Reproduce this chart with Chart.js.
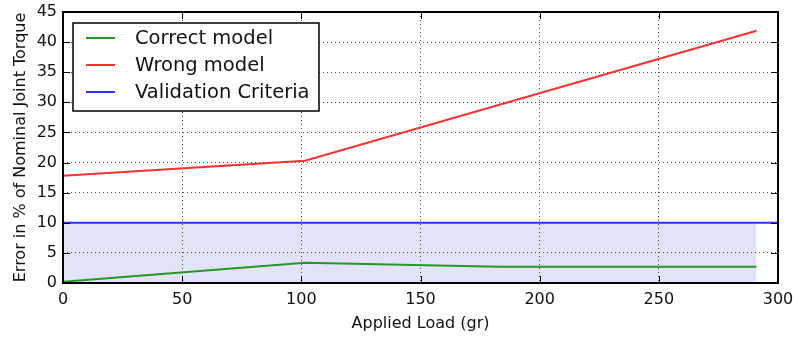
<!DOCTYPE html>
<html>
<head>
<meta charset="utf-8">
<script src="https://cdn.jsdelivr.net/npm/chart.js@4/dist/chart.umd.min.js"></script>
<style>
  html, body { margin: 0; padding: 0; background: #fff; }
  #wrap { width: 793px; height: 338px; }
</style>
</head>
<body>
<div id="wrap"><canvas id="chart" width="793" height="338"></canvas></div>
<script>
// data
const correctLoads = [0, 101.5, 183, 291];
const correctErr = [0.2, 3.35, 2.7, 2.7];
const wrongLoads = [0, 101.5, 291];
const wrongErr = [17.8, 20.3, 41.9];
const criteriaLoads = [0, 300];
const criteriaErr = [10, 10];
const shadeLoads = [0, 291];
const shadeErr = [10, 10];
const xTicks = [0, 50, 100, 150, 200, 250, 300];
const yTicks = [0, 5, 10, 15, 20, 25, 30, 35, 40, 45];

const toPts = (xs, ys) => xs.map((x, i) => ({ x: x, y: ys[i] }));

const FONT = 'DejaVu Sans';

// matplotlib-like frame, inside ticks and legend
const framePlugin = {
  id: 'frame',
  afterDraw(chart) {
    const { ctx, chartArea: a, scales } = chart;
    ctx.save();
    ctx.strokeStyle = '#000';
    ctx.lineWidth = 1;
    xTicks.forEach(v => {
      const px = Math.round(scales.x.getPixelForValue(v)) + 0.5;
      ctx.beginPath();
      ctx.moveTo(px, a.bottom); ctx.lineTo(px, a.bottom - 7);
      ctx.moveTo(px, a.top); ctx.lineTo(px, a.top + 7);
      ctx.stroke();
    });
    yTicks.forEach(v => {
      const py = Math.round(scales.y.getPixelForValue(v)) + 0.5;
      ctx.beginPath();
      ctx.moveTo(a.left, py); ctx.lineTo(a.left + 7, py);
      ctx.moveTo(a.right, py); ctx.lineTo(a.right - 7, py);
      ctx.stroke();
    });
    ctx.lineWidth = 2;
    ctx.strokeRect(a.left, a.top, a.right - a.left, a.bottom - a.top);

    // legend box
    const lx = a.left + 10, ly = a.top + 11, lw = 246, lh = 88;
    ctx.fillStyle = '#fff';
    ctx.fillRect(lx, ly, lw, lh);
    ctx.lineWidth = 1.5;
    ctx.strokeRect(lx, ly, lw, lh);
    ctx.font = '19.5px "' + FONT + '"';
    ctx.textBaseline = 'middle';
    ctx.fillStyle = '#111';
    const items = chart.data.datasets.filter(d => d.label);
    items.forEach((d, i) => {
      const y = ly + 15 + i * 27;
      ctx.strokeStyle = d.borderColor;
      ctx.lineWidth = 2;
      ctx.beginPath();
      ctx.moveTo(lx + 13, y); ctx.lineTo(lx + 42, y);
      ctx.stroke();
      ctx.fillText(d.label, lx + 62, y + 1);
    });
    ctx.restore();
  }
};

new Chart(document.getElementById('chart'), {
  type: 'line',
  data: {
    datasets: [
      {
        data: toPts(shadeLoads, shadeErr),
        borderWidth: 0,
        pointRadius: 0,
        fill: 'origin',
        backgroundColor: 'rgba(60, 60, 230, 0.15)',
        order: 5
      },
      {
        label: 'Correct model',
        data: toPts(correctLoads, correctErr),
        borderColor: '#279627',
        borderWidth: 2,
        pointRadius: 0,
        fill: false
      },
      {
        label: 'Wrong model',
        data: toPts(wrongLoads, wrongErr),
        borderColor: '#ff3030',
        borderWidth: 2,
        pointRadius: 0,
        fill: false
      },
      {
        label: 'Validation Criteria',
        data: toPts(criteriaLoads, criteriaErr),
        borderColor: '#3030ff',
        borderWidth: 2,
        pointRadius: 0,
        fill: false
      }
    ]
  },
  options: {
    responsive: false,
    animation: false,
    layout: { padding: { top: 12, right: 15, left: 0, bottom: 0 } },
    plugins: {
      legend: { display: false },
      tooltip: { enabled: false }
    },
    scales: {
      x: {
        type: 'linear',
        min: 0, max: 300,
        afterBuildTicks: s => { s.ticks = xTicks.map(v => ({ value: v })); },
        afterFit: s => { s.height = 55; s.paddingLeft = 0; s.paddingRight = 0; },
        grid: { color: 'rgba(0,0,0,0.7)', lineWidth: 1, drawTicks: false },
        border: { display: false, dash: [1, 3] },
        ticks: { color: '#111', font: { family: FONT, size: 16 }, padding: 7, maxRotation: 0 },
        title: { display: true, text: 'Applied Load (gr)', color: '#111', font: { family: FONT, size: 16 }, padding: { top: 2, bottom: 5 } }
      },
      y: {
        min: 0, max: 45,
        afterBuildTicks: s => { s.ticks = yTicks.map(v => ({ value: v })); },
        afterFit: s => { s.width = 63; s.paddingTop = 0; s.paddingBottom = 0; },
        grid: { color: 'rgba(0,0,0,0.7)', lineWidth: 1, drawTicks: false },
        border: { display: false, dash: [1, 3] },
        ticks: { color: '#111', font: { family: FONT, size: 16 }, padding: 6 },
        title: { display: true, text: 'Error in % of Nominal Joint Torque', color: '#111', font: { family: FONT, size: 16 }, padding: { top: 11, bottom: 0 } }
      }
    }
  },
  plugins: [framePlugin]
});
</script>
</body>
</html>
